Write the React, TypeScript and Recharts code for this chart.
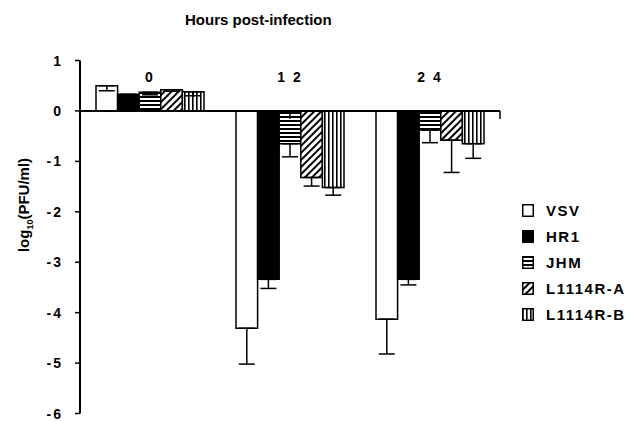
import React from 'react';
import { BarChart, Bar, XAxis, YAxis, ReferenceLine, ErrorBar, Legend } from 'recharts';

const timepoints = ['0', '12', '24'];
const timeLabels = ['0', '1 2', '2 4'];
const seriesNames = ['VSV', 'HR1', 'JHM', 'L1114R-A', 'L1114R-B'];
const vsv = [0.5, -4.31, -4.13];
const hr1 = [0.33, -3.34, -3.34];
const jhm = [0.37, -0.65, -0.38];
const l1114rA = [0.42, -1.32, -0.58];
const l1114rB = [0.38, -1.52, -0.65];
const vsvErr = [0.1, 0.71, 0.69];
const hr1Err = [0.03, 0.18, 0.11];
const jhmErr = [0.05, 0.26, 0.25];
const l1114rAErr = [0.03, 0.17, 0.64];
const l1114rBErr = [0.08, 0.15, 0.29];
const yTicks = [1, 0, -1, -2, -3, -4, -5, -6];
const boundaryTicks = [1, 2, 3];

const seriesValues = [vsv, hr1, jhm, l1114rA, l1114rB];
const seriesErrors = [vsvErr, hr1Err, jhmErr, l1114rAErr, l1114rBErr];
const fills = ['#ffffff', '#000000', 'url(#pJHM)', 'url(#pLA)', 'url(#pLB)'];

const data = timepoints.map((t, i) => {
  const row: any = { time: t };
  seriesValues.forEach((s, k) => {
    row['s' + k] = s[i];
    row['e' + k] = [seriesErrors[k][i], 0];
  });
  return row;
});

const FONT = '"Liberation Sans", Arial, Helvetica, sans-serif';

const CatTick = (props: any) => {
  const { x, y, index } = props;
  return (
    <text x={x} y={y} dy={21} textAnchor="middle" fontFamily={FONT} fontWeight="bold" fontSize={14} fill="#000" letterSpacing={2}>
      {timeLabels[index]}
    </text>
  );
};

const YTick = (props: any) => {
  const { x, y, payload } = props;
  const v = payload.value;
  const label = v < 0 ? '-' + Math.abs(v) : String(v);
  return (
    <text x={x} y={y} dy={5} textAnchor="end" fontFamily={FONT} fontWeight="bold" fontSize={14} fill="#000" letterSpacing={2}>
      {label}
    </text>
  );
};

const YLabel = () => (
  <text x={29} y={205} transform="rotate(-90, 29, 205)" textAnchor="middle" fontFamily={FONT} fontWeight="bold" fontSize={15} fill="#000">
    <tspan>log</tspan>
    <tspan dy={4} fontSize={9}>10</tspan>
    <tspan dy={-4}>(PFU/ml)</tspan>
  </text>
);

const LegendContent = () => (
  <div style={{ fontFamily: FONT, fontWeight: 'bold', fontSize: 15, color: '#000' }}>
    {seriesNames.map((n, i) => (
      <div key={n} style={{ height: 25.8, display: 'flex', alignItems: 'center' }}>
        <svg width={12} height={13} style={{ marginRight: 12, flex: 'none' }}>
          <rect x={0.75} y={0.75} width={10.5} height={11.5} fill={fills[i]} stroke="#000" strokeWidth={1.5} />
        </svg>
        <span style={{ letterSpacing: 1.5 }}>{n}</span>
      </div>
    ))}
  </div>
);

export default function App() {
  return (
    <div style={{ position: 'absolute', left: 0, top: 0, width: 639, height: 421, background: '#fff' }}>
      <svg width={0} height={0} style={{ position: 'absolute' }}>
        <defs>
          <pattern id="pJHM" width={4} height={4} patternUnits="userSpaceOnUse">
            <rect width={4} height={4} fill="#fff" />
            <rect width={4} height={2} fill="#000" />
          </pattern>
          <pattern id="pLA" width={5} height={5} patternUnits="userSpaceOnUse" patternTransform="rotate(45)">
            <rect width={5} height={5} fill="#fff" />
            <rect width={2} height={5} fill="#000" />
          </pattern>
          <pattern id="pLB" width={4} height={4} patternUnits="userSpaceOnUse">
            <rect width={4} height={4} fill="#fff" />
            <rect width={1.6} height={4} fill="#000" />
          </pattern>
        </defs>
      </svg>
      <div style={{ position: 'absolute', left: 185, top: 11, fontFamily: FONT, fontWeight: 'bold', fontSize: 15, color: '#000', whiteSpace: 'nowrap' }}>
        Hours post-infection
      </div>
      <BarChart width={639} height={421} data={data} margin={{ top: 30.5, left: 8, right: 139, bottom: 7.5 }} barGap={0} barSize={21.6}>
        <XAxis dataKey="time" orientation="top" axisLine={false} tickLine={false} tickSize={0} tickMargin={0} height={30} tick={<CatTick />} interval={0} />
        <XAxis xAxisId="num" type="number" domain={[0, 3]} allowDataOverflow hide />
        <YAxis
          type="number"
          domain={[-6, 1]}
          ticks={yTicks}
          interval={0}
          width={72}
          axisLine={{ stroke: '#000', strokeWidth: 2 }}
          tickLine={{ stroke: '#000', strokeWidth: 1.5 }}
          tickSize={5}
          tickMargin={12}
          tick={<YTick />}
          label={{ content: <YLabel /> }}
        />
        {seriesNames.map((n, k) => (
          <Bar key={n} dataKey={'s' + k} name={n} fill={fills[k]} stroke="#000" strokeWidth={1.5} isAnimationActive={false}>
            <ErrorBar dataKey={'e' + k} width={8} stroke="#000" strokeWidth={1.5} direction="y" />
          </Bar>
        ))}
        <ReferenceLine y={0} stroke="#000" strokeWidth={2} />
        {boundaryTicks.map((b) => (
          <ReferenceLine key={b} xAxisId="num" segment={[{ x: b, y: 0 }, { x: b, y: -0.16 }]} stroke="#000" strokeWidth={1.5} />
        ))}
        <Legend layout="vertical" align="center" verticalAlign="middle" wrapperStyle={{ left: 522, top: 198, width: 117 }} content={<LegendContent />} />
      </BarChart>
    </div>
  );
}
